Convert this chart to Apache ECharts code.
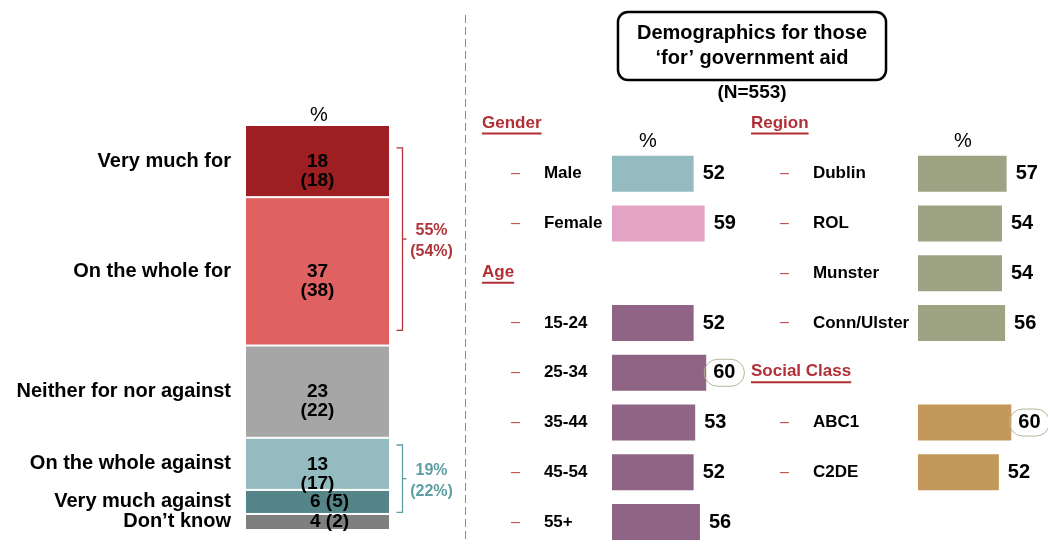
<!DOCTYPE html>
<html>
<head>
<meta charset="utf-8">
<script src="https://cdn.jsdelivr.net/npm/echarts@6/dist/echarts.min.js"></script>
<style>
  html, body { margin: 0; padding: 0; background: #fff; }
  #chart { width: 1048px; height: 543px; }
</style>
</head>
<body>
<div id="chart"></div>
<script>
// attitude to government aid, previous wave in brackets
var attitudeLabels = ["Very much for", "On the whole for", "Neither for nor against", "On the whole against", "Very much against", "Don\u2019t know"];
var attitudeNow = [18, 37, 23, 13, 6, 4];
var attitudePrev = [18, 38, 22, 17, 5, 2];

// nets (bracket span on the stacked scale)
var netFrom = [5.7, 79.8];
var netTo = [51.2, 96.6];
var netNow = ["55%", "19%"];
var netPrev = ["(54%)", "(22%)"];

// demographics for those 'for' (N=553)
var genderLabels = ["Male", "Female"];
var genderValues = [52, 59];
var ageLabels = ["15-24", "25-34", "35-44", "45-54", "55+"];
var ageValues = [52, 60, 53, 52, 56];
var regionLabels = ["Dublin", "ROL", "Munster", "Conn/Ulster"];
var regionValues = [57, 54, 54, 56];
var classLabels = ["ABC1", "C2DE"];
var classValues = [60, 52];

var FONT = '"Liberation Sans", Arial, sans-serif';
var attitudeColors = ["#9e1f21", "#df6161", "#a6a6a6", "#94bbc0", "#568589", "#7f7f7f"];
var netColors = ["#b0343a", "#5e9ea4"];
var headRed = "#b22f35";

var chart = echarts.init(document.getElementById("chart"));

// text width, for the header underlines
var cv = document.createElement("canvas").getContext("2d");
function textWidth(t, font) {
  cv.font = font;
  return cv.measureText(t).width;
}

function buildRows(groups, padTo) {
  var rows = { labels: [], values: [], colors: [], headers: [] };
  groups.forEach(function (g) {
    rows.labels.push(g.title);
    rows.values.push("-");
    rows.colors.push(null);
    rows.headers.push(g.title);
    g.labels.forEach(function (l, i) {
      rows.labels.push(l);
      rows.values.push(g.values[i]);
      rows.colors.push(g.colors[i % g.colors.length]);
    });
  });
  while (rows.labels.length < padTo) {
    rows.labels.push("");
    rows.values.push("-");
    rows.colors.push(null);
  }
  return rows;
}

var rowsA = buildRows([
  { title: "Gender", labels: genderLabels, values: genderValues, colors: ["#94bbc0", "#e2a3c4"] },
  { title: "Age", labels: ageLabels, values: ageValues, colors: ["#8f6484"] }
], 9);
var rowsB = buildRows([
  { title: "Region", labels: regionLabels, values: regionValues, colors: ["#9ea384"] },
  { title: "Social Class", labels: classLabels, values: classValues, colors: ["#c3985a"] }
], 9);

var topValue = Math.max.apply(null, genderValues.concat(ageValues, regionValues, classValues));

function rowAxisLabel(rows, margin) {
  var rich = {
    h: { color: headRed, fontWeight: "bold", fontSize: 17, fontFamily: FONT, lineHeight: 19 },
    d: { color: "#c0504d", fontSize: 16, fontFamily: FONT, padding: [0, 24, 0, 29] },
    t: { color: "#000", fontWeight: "bold", fontSize: 17, fontFamily: FONT }
  };
  rows.headers.forEach(function (h, i) {
    rich["u" + i] = {
      width: textWidth(h, "bold 17px " + FONT), height: 2,
      backgroundColor: headRed, fontSize: 1, lineHeight: 2
    };
  });
  return {
    interval: 0,
    align: "left",
    margin: margin,
    rich: rich,
    formatter: function (val) {
      var hi = rows.headers.indexOf(val);
      if (hi >= 0) return "{h|" + val + "}\n{u" + hi + "| }";
      if (val === "") return "";
      return "{d|\u2013}{t|" + val + "}";
    }
  };
}

function rowSeries(rows, axisIdx) {
  return {
    type: "bar",
    xAxisIndex: axisIdx,
    yAxisIndex: axisIdx,
    barWidth: 36,
    data: rows.values.map(function (v, i) {
      var item = { value: v, itemStyle: { color: rows.colors[i] || "#ccc" } };
      if (v === topValue) {
        item.label = {
          distance: -2,
          borderColor: "#b5b596",
          borderWidth: 1,
          borderRadius: 15,
          padding: [4, 9, 3, 9]
        };
      }
      return item;
    }),
    label: {
      show: true,
      position: "right",
      distance: 9,
      color: "#000",
      fontSize: 20,
      fontWeight: "bold",
      fontFamily: FONT
    }
  };
}

// cumulative midpoints for the left-hand labels
var mids = [];
var run = 0;
attitudeNow.forEach(function (v) {
  mids.push(run + v / 2);
  run += v;
});

var attitudeSeries = attitudeNow.map(function (v, i) {
  var twoLine = v >= 10;
  return {
    type: "bar",
    name: attitudeLabels[i],
    stack: "att",
    xAxisIndex: 0,
    yAxisIndex: 0,
    barWidth: 145,
    data: [v],
    itemStyle: { color: attitudeColors[i], borderColor: "#fff", borderWidth: 1 },
    label: {
      show: true,
      position: "inside",
      color: "#000",
      fontSize: 19,
      fontWeight: "bold",
      fontFamily: FONT,
      lineHeight: 19,
      offset: twoLine ? [0, 10] : [12, 0],
      formatter: twoLine ? v + "\n(" + attitudePrev[i] + ")" : v + " (" + attitudePrev[i] + ")"
    }
  };
});

var option = {
  animation: false,
  grid: [
    { left: 245, top: 125, width: 145, height: 405, outerBoundsMode: "none" },
    { left: 612, top: 99, width: 157, height: 448, outerBoundsMode: "none" },
    { left: 918, top: 99, width: 155.5, height: 448, outerBoundsMode: "none" }
  ],
  xAxis: [
    { gridIndex: 0, type: "category", data: ["%"], show: false },
    { gridIndex: 1, type: "value", min: 0, max: 100, show: false },
    { gridIndex: 2, type: "value", min: 0, max: 100, show: false }
  ],
  yAxis: [
    { gridIndex: 0, type: "value", min: 0, max: 101, inverse: true, show: false },
    {
      gridIndex: 1, type: "category", data: rowsA.labels, inverse: true,
      axisLine: { show: false }, axisTick: { show: false }, splitLine: { show: false },
      axisLabel: rowAxisLabel(rowsA, 130)
    },
    {
      gridIndex: 2, type: "category", data: rowsB.labels, inverse: true,
      axisLine: { show: false }, axisTick: { show: false }, splitLine: { show: false },
      axisLabel: rowAxisLabel(rowsB, 167)
    }
  ],
  series: attitudeSeries.concat([
    {
      // category names left of the stacked bar
      type: "scatter",
      xAxisIndex: 0,
      yAxisIndex: 0,
      symbolSize: 1,
      itemStyle: { color: "rgba(0,0,0,0)", opacity: 1 },
      data: mids.map(function (m, i) {
        return { name: attitudeLabels[i], value: [0, m] };
      }),
      label: {
        show: true,
        position: "left",
        distance: 86,
        formatter: "{b}",
        color: "#000",
        fontSize: 20,
        fontWeight: "bold",
        fontFamily: FONT
      }
    },
    {
      // net brackets
      type: "custom",
      xAxisIndex: 0,
      yAxisIndex: 0,
      data: netFrom.map(function (f, i) { return [0, f, netTo[i], i]; }),
      renderItem: function (params, api) {
        var i = api.value(3);
        var p1 = api.coord([0, api.value(1)]);
        var p2 = api.coord([0, api.value(2)]);
        var half = api.size([1, 0])[0] / 2;
        var x0 = p1[0] + half + 6.5;
        var xv = x0 + 6;
        var ym = (p1[1] + p2[1]) / 2;
        var col = netColors[i];
        return {
          type: "group",
          children: [
            {
              type: "polyline",
              shape: { points: [[x0, p1[1]], [xv, p1[1]], [xv, p2[1]], [x0, p2[1]]] },
              style: { stroke: col, fill: null, lineWidth: 1.3 }
            },
            {
              type: "line",
              shape: { x1: xv, y1: ym, x2: xv + 4, y2: ym },
              style: { stroke: col, lineWidth: 1.3 }
            },
            {
              type: "text",
              x: xv + 29,
              y: ym + 2,
              style: {
                text: netNow[i] + "\n" + netPrev[i],
                align: "center",
                verticalAlign: "middle",
                fill: col,
                fontSize: 16,
                fontWeight: "bold",
                fontFamily: FONT,
                lineHeight: 21
              }
            }
          ]
        };
      }
    },
    rowSeries(rowsA, 1),
    rowSeries(rowsB, 2)
  ]),
  graphic: [
    {
      type: "line",
      shape: { x1: 465.5, y1: 15, x2: 465.5, y2: 543 },
      style: { stroke: "#8a8a8a", lineWidth: 1, lineDash: [8, 4] }
    },
    {
      type: "text",
      x: 752,
      y: 46,
      style: {
        text: "Demographics for those\n\u2018for\u2019 government aid",
        align: "center",
        verticalAlign: "middle",
        fill: "#000",
        fontSize: 20,
        fontWeight: "bold",
        fontFamily: FONT,
        lineHeight: 25,
        borderColor: "#000",
        borderWidth: 2.5,
        borderRadius: 10,
        padding: [9, 19]
      }
    },
    {
      type: "text", x: 752, y: 93,
      style: { text: "(N=553)", align: "center", verticalAlign: "middle", fill: "#000", fontSize: 19, fontWeight: "bold", fontFamily: FONT }
    },
    {
      type: "text", x: 319, y: 115,
      style: { text: "%", align: "center", verticalAlign: "middle", fill: "#000", fontSize: 20, fontFamily: FONT }
    },
    {
      type: "text", x: 648, y: 141,
      style: { text: "%", align: "center", verticalAlign: "middle", fill: "#000", fontSize: 20, fontFamily: FONT }
    },
    {
      type: "text", x: 963, y: 141,
      style: { text: "%", align: "center", verticalAlign: "middle", fill: "#000", fontSize: 20, fontFamily: FONT }
    }
  ]
};

chart.setOption(option);
</script>
</body>
</html>
